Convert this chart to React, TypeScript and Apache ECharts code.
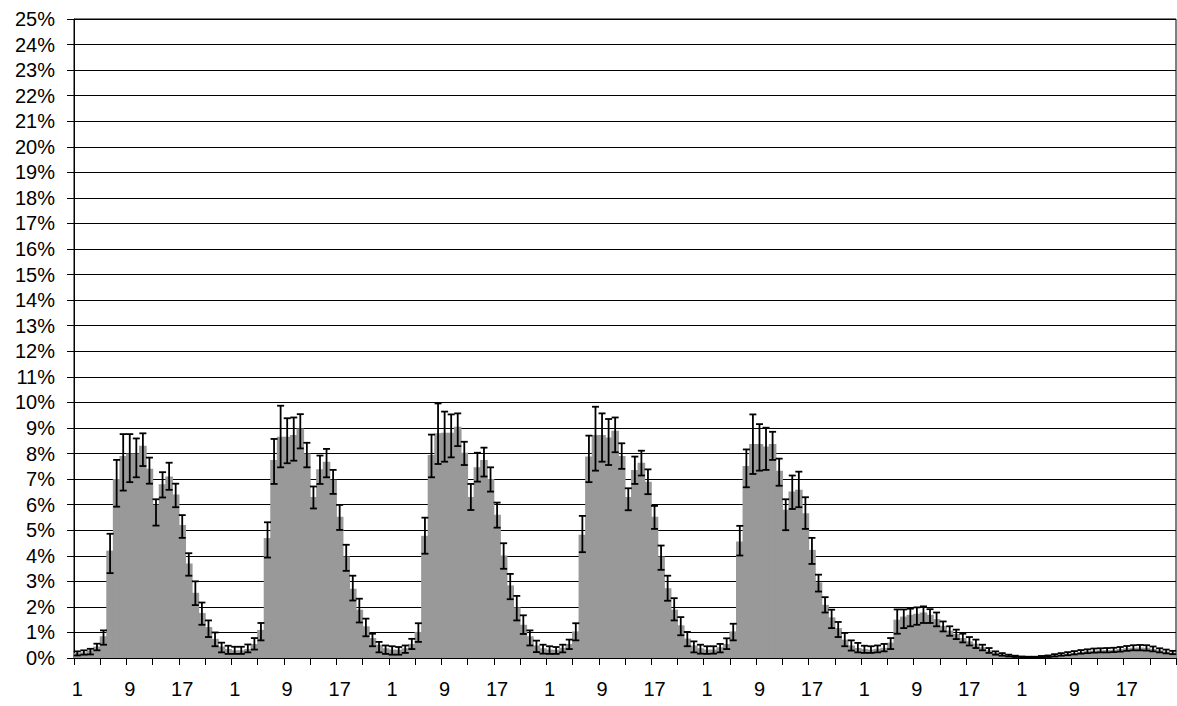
import React, { useEffect, useRef } from "react";
import * as echarts from "echarts";

// Hour-of-day labels, repeated over the seven days of the week
const hours = Array.from({ length: 24 }, (_, i) => String(i + 1));

// Share of traffic per hour (%), one array per day
const day1 = [0.2, 0.22, 0.3, 0.45, 0.85, 4.2, 7.0, 7.9, 8.0, 8.0, 8.3, 7.4, 6.0, 6.8, 7.1, 6.4, 5.2, 3.7, 2.55, 1.76, 1.21, 0.75, 0.45, 0.35];
const day2 = [0.3, 0.3, 0.35, 0.55, 1.1, 4.69, 7.75, 8.66, 8.66, 8.72, 8.98, 8.0, 6.3, 7.38, 7.68, 6.97, 5.53, 3.97, 2.71, 1.89, 1.24, 0.78, 0.52, 0.38];
const day3 = [0.33, 0.32, 0.38, 0.55, 1.02, 4.78, 7.94, 8.79, 8.81, 8.81, 9.05, 8.03, 6.3, 7.46, 7.75, 7.0, 5.6, 4.01, 2.84, 1.98, 1.3, 0.85, 0.49, 0.38];
const day4 = [0.33, 0.32, 0.4, 0.55, 1.04, 4.82, 7.88, 8.72, 8.72, 8.63, 8.89, 7.9, 6.3, 7.36, 7.64, 6.9, 5.53, 3.97, 2.73, 1.89, 1.28, 0.76, 0.49, 0.38];
const day5 = [0.33, 0.33, 0.42, 0.55, 1.04, 4.56, 7.51, 8.37, 8.37, 8.27, 8.37, 7.33, 5.8, 6.51, 6.58, 5.66, 4.23, 2.96, 2.08, 1.59, 1.17, 0.72, 0.49, 0.39];
const day6 = [0.35, 0.33, 0.36, 0.4, 0.6, 1.5, 1.62, 1.69, 1.73, 1.78, 1.69, 1.52, 1.26, 1.07, 0.94, 0.78, 0.65, 0.56, 0.42, 0.3, 0.2, 0.14, 0.1, 0.06];
const day7 = [0.04, 0.03, 0.03, 0.05, 0.07, 0.1, 0.14, 0.17, 0.2, 0.24, 0.27, 0.29, 0.3, 0.31, 0.32, 0.35, 0.38, 0.4, 0.41, 0.4, 0.36, 0.3, 0.25, 0.21];

// Upper ends of the error bars (%)
const day1Hi = [0.26, 0.3, 0.36, 0.56, 1.08, 4.86, 7.75, 8.76, 8.76, 8.59, 8.79, 7.84, 6.21, 7.27, 7.64, 6.82, 5.59, 4.1, 3.0, 2.17, 1.47, 1.0, 0.6, 0.48];
const day2Hi = [0.44, 0.44, 0.53, 0.78, 1.37, 5.31, 8.57, 9.87, 9.38, 9.41, 9.54, 8.42, 6.71, 7.92, 8.18, 7.36, 5.99, 4.43, 3.22, 2.32, 1.54, 0.95, 0.63, 0.49];
const day3Hi = [0.46, 0.43, 0.49, 0.75, 1.36, 5.49, 8.74, 9.96, 9.64, 9.53, 9.57, 8.46, 6.81, 8.03, 8.23, 7.46, 6.08, 4.49, 3.29, 2.43, 1.67, 1.08, 0.68, 0.52];
const day4Hi = [0.46, 0.43, 0.52, 0.72, 1.36, 5.56, 8.7, 9.83, 9.57, 9.35, 9.41, 8.4, 6.64, 7.88, 8.11, 7.38, 5.95, 4.4, 3.22, 2.34, 1.6, 1.02, 0.65, 0.52];
const day5Hi = [0.46, 0.46, 0.55, 0.77, 1.34, 5.17, 8.16, 9.53, 9.15, 9.01, 8.85, 7.8, 6.21, 7.14, 7.29, 6.29, 4.7, 3.26, 2.38, 1.89, 1.41, 0.98, 0.69, 0.59];
const day6Hi = [0.48, 0.46, 0.49, 0.55, 0.78, 1.9, 1.9, 1.93, 1.98, 2.02, 1.91, 1.78, 1.43, 1.24, 1.11, 0.95, 0.82, 0.72, 0.52, 0.39, 0.26, 0.19, 0.13, 0.09];
const day7Hi = [0.06, 0.05, 0.05, 0.08, 0.1, 0.15, 0.19, 0.23, 0.27, 0.31, 0.34, 0.37, 0.38, 0.39, 0.4, 0.43, 0.47, 0.5, 0.51, 0.5, 0.45, 0.38, 0.33, 0.28];

// Lower ends of the error bars (%)
const day1Lo = [0.1, 0.13, 0.14, 0.3, 0.52, 3.32, 5.92, 6.55, 6.88, 7.07, 7.51, 6.82, 5.18, 6.28, 6.58, 5.9, 4.7, 3.22, 2.07, 1.3, 0.82, 0.46, 0.22, 0.16];
const day2Lo = [0.16, 0.16, 0.22, 0.33, 0.69, 3.93, 6.81, 7.46, 7.62, 7.72, 8.2, 7.46, 5.85, 6.81, 7.07, 6.42, 5.01, 3.41, 2.25, 1.39, 0.85, 0.46, 0.22, 0.16];
const day3Lo = [0.13, 0.13, 0.2, 0.35, 0.63, 4.08, 7.07, 7.59, 7.68, 7.85, 8.29, 7.55, 5.79, 6.9, 7.1, 6.51, 5.1, 3.49, 2.3, 1.47, 0.94, 0.49, 0.23, 0.17];
const day4Lo = [0.16, 0.16, 0.22, 0.35, 0.69, 4.14, 6.88, 7.33, 7.68, 7.55, 8.05, 7.4, 5.78, 6.81, 7.14, 6.41, 5.05, 3.45, 2.24, 1.47, 0.89, 0.46, 0.22, 0.17];
const day5Lo = [0.16, 0.17, 0.22, 0.35, 0.69, 4.01, 6.68, 7.2, 7.33, 7.36, 7.75, 6.74, 5.0, 5.83, 5.9, 5.05, 3.68, 2.6, 1.78, 1.17, 0.82, 0.46, 0.29, 0.22];
const day6Lo = [0.2, 0.2, 0.22, 0.26, 0.35, 0.95, 1.17, 1.24, 1.3, 1.37, 1.37, 1.24, 1.04, 0.87, 0.74, 0.61, 0.49, 0.39, 0.3, 0.2, 0.13, 0.09, 0.06, 0.04];
const day7Lo = [0.02, 0.02, 0.02, 0.03, 0.04, 0.06, 0.09, 0.11, 0.14, 0.17, 0.19, 0.21, 0.22, 0.22, 0.23, 0.25, 0.28, 0.3, 0.3, 0.29, 0.26, 0.22, 0.18, 0.15];

const yMax = 25;
const yStep = 1;

const FONT = "'Liberation Sans', Arial, sans-serif";

export default function App() {
  const ref = useRef<HTMLDivElement>(null);

  useEffect(() => {
    document.body.style.margin = "0";
    if (!ref.current) return;
    const chart = echarts.init(ref.current, null, { renderer: "svg" });

    const labels = [...hours, ...hours, ...hours, ...hours, ...hours, ...hours, ...hours];
    const categories = labels.map((_, i) => `${i}`);
    const share = [...day1, ...day2, ...day3, ...day4, ...day5, ...day6, ...day7];
    const hi = [...day1Hi, ...day2Hi, ...day3Hi, ...day4Hi, ...day5Hi, ...day6Hi, ...day7Hi];
    const lo = [...day1Lo, ...day2Lo, ...day3Lo, ...day4Lo, ...day5Lo, ...day6Lo, ...day7Lo];
    const errData = share.map((_, i) => [i, hi[i], lo[i]]);

    chart.setOption({
      animation: false,
      grid: {
        left: 74,
        top: 19,
        right: 1,
        bottom: 48,
        show: true,
        borderColor: "#000",
        borderWidth: 1,
        backgroundColor: "transparent",
      },
      xAxis: {
        type: "category",
        data: categories,
        boundaryGap: true,
        axisLine: { show: true, lineStyle: { color: "#000", width: 1 } },
        axisTick: {
          show: true,
          interval: 3,
          length: 7,
          alignWithLabel: false,
          lineStyle: { color: "#000", width: 1 },
        },
        axisLabel: {
          interval: 7,
          margin: 21,
          color: "#000",
          fontSize: 20,
          fontFamily: FONT,
          formatter: (v: string) => labels[Number(v)],
        },
        splitLine: { show: false },
      },
      yAxis: {
        type: "value",
        min: 0,
        max: yMax,
        interval: yStep,
        axisLine: { show: true, lineStyle: { color: "#000", width: 1 } },
        axisTick: { show: true, length: 7, lineStyle: { color: "#000", width: 1 } },
        axisLabel: {
          margin: 19,
          color: "#000",
          fontSize: 20,
          fontFamily: FONT,
          formatter: (v: number) => `${v}%`,
        },
        splitLine: { show: true, lineStyle: { color: "#000", width: 1 } },
      },
      series: [
        {
          type: "bar",
          data: share,
          // slightly wider than the category band so neighbouring bars overlap without seams
          barWidth: 7.6,
          itemStyle: { color: "#999999" },
          silent: true,
        },
        {
          type: "custom",
          data: errData,
          encode: { x: 0, y: [1, 2] },
          silent: true,
          z: 3,
          renderItem: (_params: any, api: any) => {
            const idx = api.value(0);
            const top = api.coord([idx, api.value(1)]);
            const bottom = api.coord([idx, api.value(2)]);
            const half = 3.5;
            const style = { stroke: "#000", lineWidth: 1.8, fill: null };
            return {
              type: "group",
              children: [
                { type: "line", shape: { x1: top[0], y1: top[1], x2: bottom[0], y2: bottom[1] }, style },
                { type: "line", shape: { x1: top[0] - half, y1: top[1], x2: top[0] + half, y2: top[1] }, style },
                { type: "line", shape: { x1: bottom[0] - half, y1: bottom[1], x2: bottom[0] + half, y2: bottom[1] }, style },
              ],
            };
          },
        },
      ],
    });

    return () => chart.dispose();
  }, []);

  return (
    <div
      ref={ref}
      style={{ position: "absolute", left: 0, top: 0, width: 1177, height: 706, background: "#fff" }}
    />
  );
}
